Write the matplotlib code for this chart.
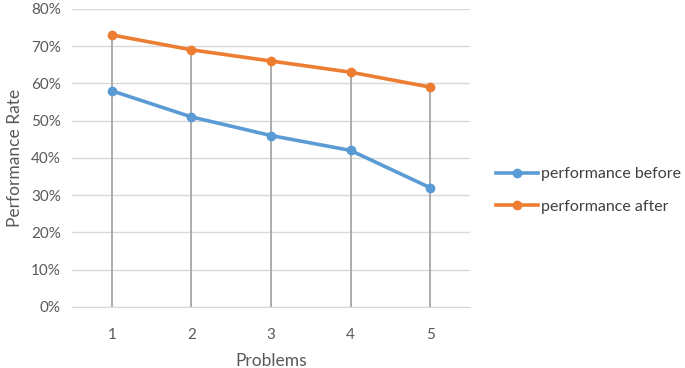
import matplotlib

matplotlib.use("Agg")
import matplotlib.pyplot as plt
from matplotlib.ticker import PercentFormatter

problems = [1, 2, 3, 4, 5]
perf_before = [58, 51, 46, 42, 32]
perf_after = [73, 69, 66, 63, 59]

plt.rcParams["font.family"] = ["Lato", "DejaVu Sans"]
text_col = "#595959"

fig = plt.figure(figsize=(6.85, 3.68), dpi=100)
ax = fig.add_axes([0.105, 0.166, 0.581, 0.81])

# drop lines from the top series down to the axis
ax.vlines(problems, 0, [max(a, b) for a, b in zip(perf_before, perf_after)],
          color="#a6a6a6", lw=1.3, zorder=1)

ax.plot(problems, perf_before, color="#5B9BD5", lw=2.6, marker="o", ms=6,
        label="performance before", zorder=3)
ax.plot(problems, perf_after, color="#ED7D31", lw=2.6, marker="o", ms=6,
        label="performance after", zorder=3)

ax.set_xlim(0.5, 5.5)
ax.set_ylim(0, 80)
ax.set_yticks(range(0, 81, 10))
ax.set_xticks(problems)
ax.yaxis.set_major_formatter(PercentFormatter(decimals=0))
ax.grid(axis="y", color="#d9d9d9", lw=1)
ax.set_axisbelow(True)
for s in ["top", "right", "left"]:
    ax.spines[s].set_visible(False)
ax.spines["bottom"].set_color("#d9d9d9")
ax.tick_params(length=0, labelsize=11, colors=text_col)
ax.tick_params(axis="x", pad=15)
ax.tick_params(axis="y", pad=8)

ax.set_xlabel("Problems", fontsize=12.5, color=text_col, labelpad=8)
ax.set_ylabel("Performance Rate", fontsize=12.5, color=text_col, labelpad=6)

ax.legend(loc="center left", bbox_to_anchor=(1.03, 0.39), frameon=False,
          fontsize=11.5, labelcolor="#404040", handlelength=2.6,
          handletextpad=0.2, labelspacing=1.15)

fig.savefig("out.png", dpi=100)
